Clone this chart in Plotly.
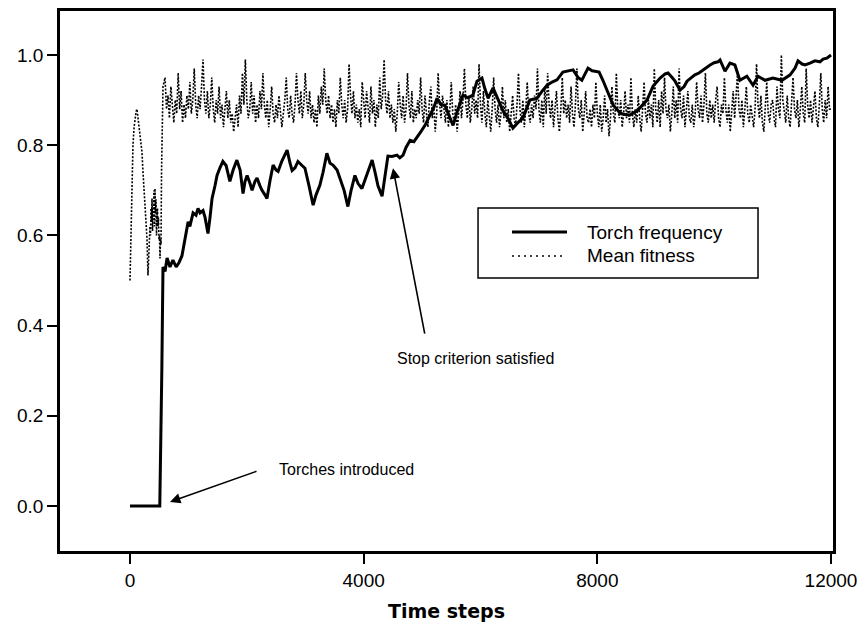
import numpy as np
import plotly.graph_objects as go

# ---------------- data ----------------
# Torch frequency: (time step, frequency)
torch_points = [
    (0, 0.0), (510, 0.0), (545, 0.30), (565, 0.53), (600, 0.52), (635, 0.55), (685, 0.53),
    (735, 0.545), (790, 0.53), (840, 0.54), (890, 0.555), (940, 0.59), (995, 0.63), (1025, 0.62),
    (1080, 0.65), (1130, 0.645), (1165, 0.66), (1200, 0.65), (1250, 0.655), (1285, 0.64),
    (1335, 0.604), (1370, 0.64), (1405, 0.682), (1455, 0.71), (1490, 0.733), (1540, 0.75),
    (1590, 0.764), (1645, 0.755), (1710, 0.72), (1765, 0.745), (1830, 0.767), (1885, 0.745),
    (1935, 0.693), (1970, 0.72), (2005, 0.733), (2055, 0.715), (2090, 0.70), (2140, 0.72),
    (2175, 0.727), (2225, 0.71), (2260, 0.70), (2310, 0.69), (2345, 0.682), (2395, 0.72),
    (2450, 0.756), (2500, 0.745), (2535, 0.742), (2600, 0.765), (2690, 0.789), (2740, 0.76),
    (2775, 0.744), (2825, 0.75), (2875, 0.764), (2945, 0.755), (2995, 0.749), (3065, 0.71),
    (3135, 0.667), (3185, 0.69), (3250, 0.711), (3305, 0.74), (3370, 0.782), (3425, 0.76),
    (3475, 0.756), (3545, 0.745), (3595, 0.727), (3665, 0.70), (3730, 0.664), (3785, 0.70),
    (3850, 0.733), (3905, 0.715), (3970, 0.704), (4055, 0.735), (4145, 0.767), (4195, 0.74),
    (4245, 0.71), (4315, 0.687), (4365, 0.73), (4415, 0.776), (4485, 0.775), (4570, 0.778),
    (4620, 0.772), (4675, 0.778), (4725, 0.795), (4795, 0.811), (4860, 0.808), (4930, 0.82),
    (4980, 0.83), (5050, 0.844), (5135, 0.867), (5205, 0.885), (5255, 0.904), (5325, 0.89),
    (5390, 0.889), (5460, 0.865), (5530, 0.844), (5615, 0.88), (5700, 0.911), (5785, 0.905),
    (5870, 0.911), (5940, 0.942), (6025, 0.949), (6075, 0.925), (6130, 0.904), (6215, 0.927),
    (6300, 0.90), (6385, 0.876), (6470, 0.86), (6555, 0.838), (6640, 0.85), (6725, 0.86),
    (6845, 0.90), (6965, 0.904), (7055, 0.92), (7140, 0.933), (7225, 0.94), (7310, 0.945),
    (7410, 0.962), (7500, 0.965), (7585, 0.967), (7670, 0.95), (7735, 0.944), (7840, 0.971),
    (7910, 0.965), (7960, 0.964), (8030, 0.962), (8095, 0.944), (8180, 0.916), (8270, 0.889),
    (8390, 0.871), (8475, 0.868), (8560, 0.867), (8625, 0.872), (8695, 0.878), (8780, 0.89),
    (8850, 0.90), (8955, 0.931), (9075, 0.949), (9160, 0.958), (9210, 0.96), (9280, 0.95),
    (9330, 0.942), (9415, 0.922), (9485, 0.93), (9535, 0.942), (9605, 0.95), (9670, 0.956),
    (9740, 0.96), (9810, 0.967), (9875, 0.973), (9930, 0.978), (10000, 0.983), (10065, 0.985),
    (10100, 0.989), (10185, 0.964), (10270, 0.982), (10355, 0.978), (10440, 0.944),
    (10510, 0.95), (10560, 0.953), (10665, 0.933), (10750, 0.953), (10870, 0.944),
    (11005, 0.949), (11160, 0.944), (11300, 0.956), (11385, 0.971), (11435, 0.987),
    (11505, 0.98), (11555, 0.978), (11640, 0.982), (11725, 0.987), (11810, 0.985),
    (11865, 0.991), (11930, 0.993), (12000, 1.0),
]

# Mean fitness, start of the run (before and at the torch introduction)
fitness_early_t = [0, 17, 34, 51, 70, 86, 105, 120, 137, 155, 171, 190, 205, 223, 240,
                   257, 275, 291, 308, 325, 342, 351, 360, 368, 377, 386, 394, 403, 411,
                   420, 428, 437, 445, 454, 462, 471, 479, 488, 496, 505, 514, 522, 531,
                   540, 548, 565]
fitness_early_v = [0.50, 0.62, 0.74, 0.80, 0.84, 0.86, 0.875, 0.88, 0.86, 0.83, 0.82, 0.80,
                   0.785, 0.74, 0.70, 0.667, 0.62, 0.593, 0.511, 0.578, 0.62, 0.60, 0.66,
                   0.63, 0.682, 0.61, 0.66, 0.64, 0.70, 0.62, 0.704, 0.65, 0.68, 0.60,
                   0.645, 0.66, 0.62, 0.64, 0.59, 0.60, 0.549, 0.593, 0.58, 0.74, 0.85, 0.93]

# Mean fitness afterwards, one value every 25 time steps from 600 to 12000
fitness_step = 25
fitness_band_start = 600
fitness_band = [
    # 600-975
    0.95, 0.88, 0.91, 0.86, 0.93, 0.89, 0.85, 0.90, 0.87, 0.96, 0.88, 0.92, 0.85, 0.89, 0.86, 0.91,
    # 1000-1975
    0.88, 0.94, 0.87, 0.90, 0.97, 0.89, 0.86, 0.91, 0.88, 0.93,
    0.99, 0.90, 0.87, 0.92, 0.86, 0.89, 0.95, 0.88, 0.85, 0.90,
    0.87, 0.93, 0.86, 0.89, 0.84, 0.88, 0.92, 0.86, 0.90, 0.85,
    0.87, 0.83, 0.86, 0.89, 0.84, 0.91, 0.87, 0.96, 0.89, 0.99,
    # 2000-2975
    0.90, 0.86, 0.88, 0.94, 0.87, 0.91, 0.85, 0.89, 0.86, 0.92,
    0.88, 0.96, 0.89, 0.86, 0.90, 0.84, 0.88, 0.93, 0.87, 0.85,
    0.89, 0.86, 0.91, 0.88, 0.84, 0.87, 0.90, 0.95, 0.88, 0.86,
    0.91, 0.87, 0.85, 0.89, 0.96, 0.90, 0.87, 0.92, 0.86, 0.89,
    # 3000-3975
    0.96, 0.90, 0.87, 0.92, 0.86, 0.89, 0.85, 0.88, 0.84, 0.91,
    0.87, 0.93, 0.89, 0.97, 0.90, 0.87, 0.91, 0.86, 0.89, 0.85,
    0.88, 0.84, 0.90, 0.87, 0.95, 0.89, 0.86, 0.90, 0.85, 0.88,
    0.98, 0.91, 0.87, 0.92, 0.86, 0.89, 0.85, 0.88, 0.84, 0.94,
    # 4000-4975
    0.89, 0.86, 0.92, 0.88, 0.85, 0.93, 0.87, 0.90, 0.84, 0.89,
    0.86, 0.95, 0.88, 0.91, 0.99, 0.90, 0.87, 0.92, 0.86, 0.89,
    0.85, 0.88, 0.83, 0.87, 0.94, 0.89, 0.86, 0.91, 0.85, 0.88,
    0.96, 0.89, 0.86, 0.92, 0.85, 0.88, 0.86, 0.90, 0.87, 0.95,
    # 5000-5975
    0.88, 0.85, 0.91, 0.87, 0.84, 0.90, 0.93, 0.86, 0.89, 0.83,
    0.87, 0.96, 0.89, 0.86, 0.91, 0.88, 0.85, 0.90, 0.84, 0.88,
    0.94, 0.87, 0.85, 0.89, 0.83, 0.87, 0.92, 0.86, 0.90, 0.97,
    0.89, 0.86, 0.91, 0.85, 0.88, 0.93, 0.87, 0.90, 0.86, 0.98,
    # 6000-6975
    0.89, 0.85, 0.92, 0.87, 0.84, 0.90, 0.86, 0.83, 0.88, 0.95,
    0.88, 0.85, 0.89, 0.84, 0.87, 0.93, 0.86, 0.90, 0.85, 0.88,
    0.83, 0.87, 0.91, 0.86, 0.84, 0.89, 0.96, 0.88, 0.85, 0.90,
    0.84, 0.88, 0.94, 0.87, 0.85, 0.89, 0.86, 0.91, 0.88, 0.97,
    # 7000-7975
    0.88, 0.85, 0.90, 0.84, 0.93, 0.87, 0.96, 0.89, 0.86, 0.90,
    0.84, 0.88, 0.92, 0.86, 0.83, 0.88, 0.95, 0.87, 0.90, 0.86,
    0.89, 0.85, 0.93, 0.87, 0.84, 0.89, 0.97, 0.88, 0.86, 0.90,
    0.83, 0.87, 0.92, 0.86, 0.85, 0.88, 0.84, 0.89, 0.86, 0.94,
    # 8000-8975
    0.87, 0.84, 0.89, 0.83, 0.86, 0.91, 0.85, 0.88, 0.82, 0.86,
    0.93, 0.87, 0.85, 0.96, 0.88, 0.86, 0.90, 0.84, 0.87, 0.92,
    0.86, 0.89, 0.85, 0.95, 0.87, 0.84, 0.88, 0.85, 0.91, 0.86,
    0.83, 0.88, 0.94, 0.87, 0.85, 0.90, 0.86, 0.89, 0.84, 0.97,
    # 9000-9975
    0.88, 0.85, 0.90, 0.84, 0.92, 0.87, 0.95, 0.88, 0.86, 0.89,
    0.83, 0.87, 0.93, 0.86, 0.90, 0.85, 0.97, 0.88, 0.86, 0.91,
    0.84, 0.88, 0.92, 0.86, 0.85, 0.89, 0.84, 0.87, 0.94, 0.88,
    0.86, 0.91, 0.85, 0.89, 0.96, 0.87, 0.85, 0.90, 0.86, 0.89,
    # 10000-10975
    0.85, 0.90, 0.93, 0.86, 0.84, 0.89, 0.87, 0.95, 0.88, 0.85,
    0.89, 0.83, 0.87, 0.92, 0.86, 0.90, 0.96, 0.88, 0.86, 0.90,
    0.84, 0.88, 0.93, 0.87, 0.85, 0.89, 0.86, 0.84, 0.88, 0.98,
    0.89, 0.86, 0.91, 0.85, 0.83, 0.88, 0.94, 0.87, 0.85, 0.89,
    # 11000-11975
    0.90, 0.86, 0.84, 0.93, 0.88, 0.86, 1.00, 0.90, 0.87, 0.85,
    0.91, 0.86, 0.84, 0.89, 0.95, 0.88, 0.86, 0.90, 0.84, 0.88,
    0.93, 0.87, 0.85, 0.97, 0.89, 0.86, 0.90, 0.85, 0.88, 0.92,
    0.86, 0.84, 0.89, 0.96, 0.88, 0.85, 0.90, 0.86, 0.93, 0.88,
    # 12000
    0.88,
]

x_ticks = [0, 4000, 8000, 12000]
y_ticks = [0.0, 0.2, 0.4, 0.6, 0.8, 1.0]
series_names = ["Torch frequency", "Mean fitness"]
x_title = "Time steps"
note_torch = "Torches introduced"
note_stop = "Stop criterion satisfied"

# ---------------- build ----------------
torch_t = [p[0] for p in torch_points]
torch_v = [p[1] for p in torch_points]
band_t = [int(v) for v in fitness_band_start + fitness_step * np.arange(len(fitness_band))]
fit_t = fitness_early_t + band_t
fit_v = fitness_early_v + fitness_band

FONT = "Liberation Sans, Arial, Helvetica, sans-serif"

fig = go.Figure()
fig.add_trace(go.Scatter(x=fit_t, y=fit_v, mode="lines", name=series_names[1],
                         line=dict(color="black", width=1.6, dash="2px,1.6px"), showlegend=False))
fig.add_trace(go.Scatter(x=torch_t, y=torch_v, mode="lines", name=series_names[0],
                         line=dict(color="black", width=3), showlegend=False))

# Legend box (R-style)
fig.add_shape(type="rect", xref="paper", yref="paper", x0=0.5408, x1=0.903, y0=0.5056, y1=0.635,
              line=dict(color="black", width=1.5), fillcolor="white", layer="above")
fig.add_shape(type="line", xref="paper", yref="paper", x0=0.5847, x1=0.6559, y0=0.5907, y1=0.5907,
              line=dict(color="black", width=2.8), layer="above")
fig.add_shape(type="line", xref="paper", yref="paper", x0=0.5847, x1=0.6520, y0=0.5463, y1=0.5463,
              line=dict(color="black", width=1.4, dash="2px,4px"), layer="above")
fig.add_annotation(xref="paper", yref="paper", x=0.6792, y=0.5889, text=series_names[0],
                   showarrow=False, xanchor="left", yanchor="middle",
                   font=dict(family=FONT, size=19, color="black"))
fig.add_annotation(xref="paper", yref="paper", x=0.6792, y=0.5481, text=series_names[1],
                   showarrow=False, xanchor="left", yanchor="middle",
                   font=dict(family=FONT, size=19, color="black"))

# Arrows and notes
fig.add_annotation(x=685, y=0.009, ax=2191, ay=0.078, axref="x", ayref="y", xref="x", yref="y",
                   text="", showarrow=True, arrowhead=2, arrowsize=1.3, arrowwidth=1.6,
                   arrowcolor="black")
fig.add_annotation(x=2516, y=0.080, text=note_torch, showarrow=False, xanchor="left",
                   yanchor="middle", font=dict(family=FONT, size=16, color="black"))
fig.add_annotation(x=4502, y=0.749, ax=5050, ay=0.379, axref="x", ayref="y", xref="x", yref="y",
                   text="", showarrow=True, arrowhead=2, arrowsize=1.3, arrowwidth=1.6,
                   arrowcolor="black")
fig.add_annotation(x=4536, y=0.328, text=note_stop, showarrow=False, xanchor="left",
                   yanchor="middle", font=dict(family=FONT, size=16, color="black"))

axis_common = dict(showgrid=False, zeroline=False, showline=True, linecolor="black",
                   linewidth=2.5, mirror=True, ticks="outside", ticklen=10, tickwidth=1.5,
                   tickcolor="black", tickfont=dict(family=FONT, size=19, color="black"))

fig.update_xaxes(range=[-1198, 12034], tickvals=x_ticks, ticktext=[str(v) for v in x_ticks],
                 title=dict(text="<b>" + x_title + "</b>", standoff=16,
                            font=dict(family="DejaVu Sans, sans-serif", size=19, color="black")),
                 **axis_common)
fig.update_yaxes(range=[-0.0998, 1.0976], tickvals=y_ticks, tickformat=".1f", **axis_common)

# page body adds an 8px margin, so the figure is a little smaller than the window
fig.update_layout(width=857, height=618, margin=dict(l=52, r=32, t=3, b=75, autoexpand=False),
                  plot_bgcolor="white", paper_bgcolor="white", showlegend=False,
                  font=dict(family=FONT, color="black"))

fig.write_html("out.html")
